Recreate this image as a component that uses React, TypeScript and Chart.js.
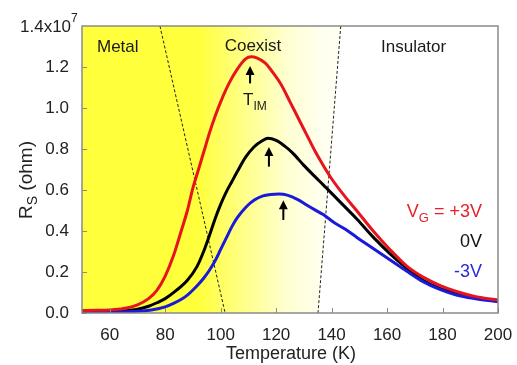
import React, { useEffect, useRef } from "react";
import { Chart, registerables } from "chart.js";

Chart.register(...registerables);

// ---- Data (resistance in units of 10^7 ohm) ----
const tempRed = [50, 55, 60, 65, 70, 74, 77, 80, 83, 86, 88, 90, 92, 94, 96, 98, 100, 103, 106, 109, 111, 113, 116, 119, 122, 125, 128, 131, 134, 137, 140, 145, 149, 155, 161, 167, 173, 179, 185, 192, 200];
const rsRed = [0.012, 0.013, 0.015, 0.022, 0.04, 0.07, 0.11, 0.18, 0.28, 0.41, 0.5, 0.61, 0.7, 0.79, 0.88, 0.96, 1.03, 1.12, 1.19, 1.24, 1.25, 1.245, 1.22, 1.17, 1.11, 1.03, 0.95, 0.87, 0.79, 0.72, 0.655, 0.565, 0.5, 0.4, 0.31, 0.23, 0.175, 0.135, 0.105, 0.08, 0.063];

const tempBlack = [50, 60, 65, 70, 74, 77, 80, 84, 88, 91.4, 94, 96, 98, 100, 102, 104, 106, 109, 112, 115, 117, 120, 123, 126, 130, 134, 137, 141, 145, 149, 155, 161, 167, 173, 179, 185, 192, 200];
const rsBlack = [0.005, 0.007, 0.01, 0.018, 0.033, 0.05, 0.07, 0.11, 0.16, 0.225, 0.305, 0.38, 0.46, 0.53, 0.59, 0.64, 0.69, 0.76, 0.81, 0.84, 0.852, 0.842, 0.815, 0.78, 0.72, 0.665, 0.625, 0.57, 0.515, 0.46, 0.37, 0.29, 0.22, 0.16, 0.12, 0.096, 0.075, 0.058];

const tempBlue = [50, 60, 70, 75, 80, 83, 86, 88, 90, 92, 94, 96, 98, 100, 102, 104, 106, 109, 112, 115, 118, 121, 124, 128, 131, 134, 137, 141, 145, 149, 155, 161, 167, 173, 179, 185, 192, 200];
const rsBlue = [0.003, 0.004, 0.008, 0.015, 0.03, 0.047, 0.068, 0.087, 0.112, 0.14, 0.172, 0.21, 0.255, 0.31, 0.365, 0.42, 0.465, 0.515, 0.55, 0.57, 0.578, 0.58, 0.575, 0.552, 0.527, 0.503, 0.48, 0.44, 0.408, 0.37, 0.315, 0.26, 0.205, 0.153, 0.115, 0.088, 0.07, 0.055];

// Phase boundaries (dashed lines)
const metalBoundaryT = [78.1, 101.6];
const metalBoundaryRs = [1.4, 0];
const insulatorBoundaryT = [143.3, 135.1];
const insulatorBoundaryRs = [1.4, 0];

// T_IM arrows
const arrowT = [110.6, 117.4, 122.6];
const arrowTipRs = [1.205, 0.81, 0.55];
const arrowBaseRs = [1.12, 0.714, 0.454];

// Axes
const xTicks = [60, 80, 100, 120, 140, 160, 180, 200];
const yTicks = [0, 0.2, 0.4, 0.6, 0.8, 1.0, 1.2];
const xMin = 50, xMax = 200, yMin = 0, yMax = 1.4;
const yTopLabel = "1.4x10";
const yTopExp = "7";

const regionLabels = ["Metal", "Coexist", "Insulator"];
const seriesLabels = ["+3V", "0V", "-3V"];
const seriesColors = ["#e8141c", "#000000", "#1a1ad8"];
const labelColors = ["#e8202a", "#111111", "#2a2ad8"];

const FONT = "'Liberation Sans', Arial, sans-serif";

function pts(xs: number[], ys: number[]) {
  return xs.map((x, i) => ({ x, y: ys[i] }));
}

function textWithSub(ctx: CanvasRenderingContext2D, main: string, sub: string, rest: string, x: number, y: number, size: number, subSize: number, align: "left" | "right" | "center") {
  ctx.font = `${size}px ${FONT}`;
  const w1 = ctx.measureText(main).width;
  ctx.font = `${subSize}px ${FONT}`;
  const w2 = ctx.measureText(sub).width;
  ctx.font = `${size}px ${FONT}`;
  const w3 = ctx.measureText(rest).width;
  const total = w1 + w2 + w3;
  let sx = x;
  if (align === "right") sx = x - total;
  else if (align === "center") sx = x - total / 2;
  ctx.textAlign = "left";
  ctx.textBaseline = "alphabetic";
  ctx.font = `${size}px ${FONT}`;
  ctx.fillText(main, sx, y);
  ctx.font = `${subSize}px ${FONT}`;
  ctx.fillText(sub, sx + w1, y + size * 0.28);
  ctx.font = `${size}px ${FONT}`;
  ctx.fillText(rest, sx + w1 + w2, y);
}

const decorPlugin = {
  id: "decor",
  beforeDraw(chart: any) {
    const { ctx, chartArea: a, scales } = chart;
    const xs = scales.x, ys = scales.y;
    ctx.save();
    ctx.fillStyle = "#ffffff";
    ctx.fillRect(0, 0, chart.width, chart.height);
    const xTop = xs.getPixelForValue(insulatorBoundaryT[0]);
    const xBot = xs.getPixelForValue(insulatorBoundaryT[1]);
    const g = ctx.createLinearGradient(xs.getPixelForValue(92), 0, xs.getPixelForValue(138), 0);
    g.addColorStop(0, "rgb(255,255,60)");
    g.addColorStop(0.35, "rgb(255,255,135)");
    g.addColorStop(0.7, "rgb(255,255,210)");
    g.addColorStop(1, "rgb(255,255,242)");
    ctx.fillStyle = g;
    ctx.beginPath();
    ctx.moveTo(a.left, ys.getPixelForValue(yMax));
    ctx.lineTo(xTop, ys.getPixelForValue(insulatorBoundaryRs[0]));
    ctx.lineTo(xBot, ys.getPixelForValue(insulatorBoundaryRs[1]));
    ctx.lineTo(a.left, ys.getPixelForValue(yMin));
    ctx.closePath();
    ctx.fill();
    ctx.restore();
  },
  afterDatasetsDraw(chart: any) {
    const { ctx, chartArea: a, scales } = chart;
    const xs = scales.x, ys = scales.y;
    ctx.save();
    ctx.strokeStyle = "#8a8a8a";
    ctx.lineWidth = 1.5;
    ctx.strokeRect(a.left, a.top, a.right - a.left, a.bottom - a.top);
    ctx.lineWidth = 1;
    ctx.beginPath();
    xTicks.forEach((t) => {
      const px = Math.round(xs.getPixelForValue(t)) + 0.5;
      ctx.moveTo(px, a.bottom);
      ctx.lineTo(px, a.bottom - 5);
    });
    yTicks.forEach((v) => {
      const py = Math.round(ys.getPixelForValue(v)) + 0.5;
      ctx.moveTo(a.left, py);
      ctx.lineTo(a.left + 5, py);
    });
    ctx.stroke();
    ctx.strokeStyle = "#000";
    ctx.fillStyle = "#000";
    arrowT.forEach((t, i) => {
      const px = xs.getPixelForValue(t);
      const pTip = ys.getPixelForValue(arrowTipRs[i]);
      const pBase = ys.getPixelForValue(arrowBaseRs[i]);
      ctx.lineWidth = 2;
      ctx.beginPath();
      ctx.moveTo(px, pBase);
      ctx.lineTo(px, pTip + 6);
      ctx.stroke();
      ctx.beginPath();
      ctx.moveTo(px, pTip);
      ctx.lineTo(px - 4.5, pTip + 9);
      ctx.lineTo(px + 4.5, pTip + 9);
      ctx.closePath();
      ctx.fill();
    });
    ctx.restore();
  },
  afterDraw(chart: any) {
    const { ctx, chartArea: a } = chart;
    ctx.save();
    ctx.fillStyle = "#1a1a1a";
    ctx.font = `17px ${FONT}`;
    ctx.textBaseline = "alphabetic";
    ctx.textAlign = "left";
    ctx.fillText(regionLabels[0], a.left + 15, a.top + 26);
    ctx.textAlign = "center";
    ctx.fillText(regionLabels[1], 253, a.top + 25);
    ctx.textAlign = "left";
    ctx.fillText(regionLabels[2], 381, a.top + 26);
    textWithSub(ctx, "T", "IM", "", 243, 105, 17, 12, "left");
    ctx.fillStyle = labelColors[0];
    textWithSub(ctx, "V", "G", " = " + seriesLabels[0], 482, 217, 18, 13, "right");
    ctx.fillStyle = labelColors[1];
    ctx.font = `18px ${FONT}`;
    ctx.textAlign = "right";
    ctx.fillText(seriesLabels[1], 482, 247);
    ctx.fillStyle = labelColors[2];
    ctx.fillText(seriesLabels[2], 482, 277);
    ctx.fillStyle = "#222";
    ctx.font = `17px ${FONT}`;
    ctx.textAlign = "left";
    ctx.fillText(yTopLabel, 20, 32);
    const w = ctx.measureText(yTopLabel).width;
    ctx.font = `12px ${FONT}`;
    ctx.fillText(yTopExp, 20 + w, 22);
    ctx.font = `18px ${FONT}`;
    ctx.textAlign = "center";
    ctx.fillText("Temperature (K)", 291, 359);
    ctx.translate(32, 180);
    ctx.rotate(-Math.PI / 2);
    textWithSub(ctx, "R", "S", " (ohm)", 0, 0, 19, 14, "center");
    ctx.restore();
  },
};

export default function App() {
  const ref = useRef<HTMLCanvasElement | null>(null);
  useEffect(() => {
    if (!ref.current) return;
    const lineDs = (label: string, xs: number[], ys: number[], color: string) => ({
      label,
      data: pts(xs, ys),
      borderColor: color,
      backgroundColor: color,
      borderWidth: 3,
      pointRadius: 0,
      cubicInterpolationMode: "monotone" as const,
      fill: false,
    });
    const dashDs = (label: string, xs: number[], ys: number[]) => ({
      label,
      data: pts(xs, ys),
      borderColor: "#222",
      borderWidth: 1,
      borderDash: [3, 2],
      pointRadius: 0,
      fill: false,
    });
    const chart = new Chart(ref.current, {
      type: "line",
      data: {
        datasets: [
          lineDs(seriesLabels[0], tempRed, rsRed, seriesColors[0]),
          lineDs(seriesLabels[2], tempBlue, rsBlue, seriesColors[2]),
          lineDs(seriesLabels[1], tempBlack, rsBlack, seriesColors[1]),
          dashDs("metal", metalBoundaryT, metalBoundaryRs),
          dashDs("insulator", insulatorBoundaryT, insulatorBoundaryRs),
        ] as any,
      },
      options: {
        animation: false,
        responsive: false,
        devicePixelRatio: 1,
        layout: { padding: { top: 26, right: 19, left: 0, bottom: 0 } },
        plugins: { legend: { display: false }, tooltip: { enabled: false } },
        scales: {
          x: {
            type: "linear",
            min: xMin,
            max: xMax,
            grid: { display: false },
            border: { display: false },
            afterBuildTicks: (s: any) => { s.ticks = xTicks.map((v) => ({ value: v })); },
            afterFit: (s: any) => { s.height = 52; },
            ticks: { padding: 4, color: "#222", font: { family: FONT, size: 17 }, maxRotation: 0, callback: (v: any) => String(v) },
          },
          y: {
            type: "linear",
            min: yMin,
            max: yMax,
            grid: { display: false },
            border: { display: false },
            afterBuildTicks: (s: any) => { s.ticks = yTicks.map((v) => ({ value: v })); },
            afterFit: (s: any) => { s.width = 82; },
            ticks: { padding: 5, color: "#222", font: { family: FONT, size: 17 }, callback: (v: any) => Number(v).toFixed(1) },
          },
        },
      },
      plugins: [decorPlugin],
    });
    return () => chart.destroy();
  }, []);
  return (
    <div style={{ position: "fixed", left: 0, top: 0, width: 517, height: 365, background: "#fff" }}>
      <canvas ref={ref} width={517} height={365} style={{ width: 517, height: 365, display: "block" }} />
    </div>
  );
}
